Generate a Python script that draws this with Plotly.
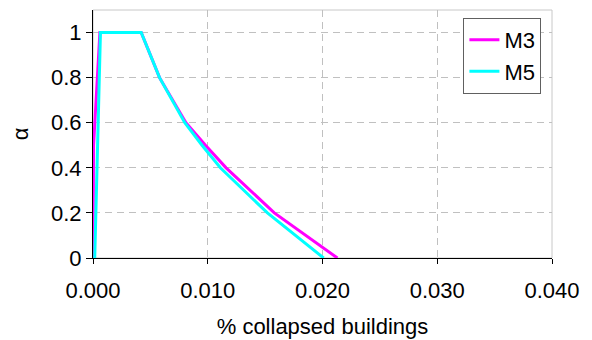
import plotly.graph_objects as go

# data
m3_x = [0.0, 0.00005, 0.0006, 0.0042, 0.0058, 0.0081, 0.0098, 0.0116, 0.0158, 0.0213]
m3_y = [0.0, 0.5, 1.0, 1.0, 0.8, 0.6, 0.5, 0.4, 0.2, 0.0]
m5_x = [0.00015, 0.00065, 0.0042, 0.0058, 0.0080, 0.0095, 0.0111, 0.0152, 0.0201]
m5_y = [0.0, 1.0, 1.0, 0.8, 0.6, 0.5, 0.4, 0.2, 0.0]
x_ticks = [0.0, 0.01, 0.02, 0.03, 0.04]
x_tick_labels = ["0.000", "0.010", "0.020", "0.030", "0.040"]
y_ticks = [0, 0.2, 0.4, 0.6, 0.8, 1.0]
y_tick_labels = ["0", "0.2", "0.4", "0.6", "0.8", "1"]

FONT = "Liberation Sans, Arial, sans-serif"

fig = go.Figure()
fig.add_trace(go.Scatter(x=m3_x, y=m3_y, mode="lines", name="M3",
                         line=dict(color="#FF00FF", width=3)))
fig.add_trace(go.Scatter(x=m5_x, y=m5_y, mode="lines", name="M5",
                         line=dict(color="#00FFFF", width=3)))

fig.add_shape(type="rect", xref="paper", yref="paper", x0=0, x1=1, y0=0, y1=1,
              line=dict(color="#c8c8c8", width=1), layer="below")

fig.update_layout(
    width=592, height=340,
    margin=dict(l=93, r=40, t=10, b=82),
    paper_bgcolor="white", plot_bgcolor="white",
    font=dict(family=FONT, size=22, color="black"),
    showlegend=True,
    legend=dict(x=0.807, y=0.968, xanchor="left", yanchor="top",
                bgcolor="white", bordercolor="#606060", borderwidth=1,
                font=dict(size=22), itemwidth=30, tracegroupgap=0),
    xaxis=dict(range=[0, 0.04], tickvals=x_ticks, ticktext=x_tick_labels,
               showgrid=True, gridcolor="#c0c0c0", griddash="7px,5px", gridwidth=1,
               zeroline=False, showline=True, linecolor="black", linewidth=1,
               ticks="outside", ticklen=5, tickcolor="black", ticklabelstandoff=8,
               automargin=False,
               title=dict(text="% collapsed buildings", standoff=16,
                          font=dict(size=22))),
    yaxis=dict(range=[0, 1.1], tickvals=y_ticks, ticktext=y_tick_labels,
               showgrid=True, gridcolor="#c0c0c0", griddash="7px,5px", gridwidth=1,
               zeroline=False, showline=True, linecolor="black", linewidth=1,
               ticks="outside", ticklen=6, tickcolor="black", automargin=False,
               title=dict(text="α", standoff=16, font=dict(size=22))),
)

fig.write_html("out.html")
